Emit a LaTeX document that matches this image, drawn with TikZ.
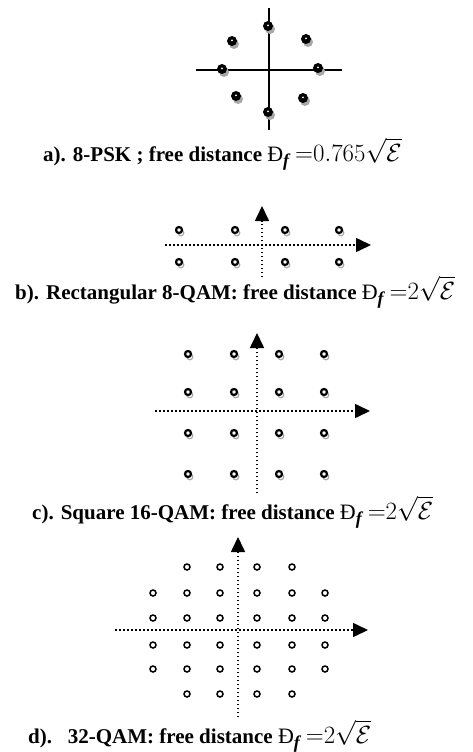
\documentclass[tikz,border=0pt]{standalone}
\usepackage{amsmath,amssymb}
\usepackage{fontspec}
\setmainfont{Liberation Serif}
\usepackage{tikz}
\usetikzlibrary{arrows.meta,shadows}
\definecolor{shade}{HTML}{A8A8A8}
\newcommand{\dfree}[1]{free distance {\fontsize{22}{24}\selectfont\mdseries Ɖ}\raisebox{-5pt}{\fontsize{18}{20}\selectfont\itshape f}\hspace{6pt}{\fontsize{27}{30}\selectfont$\mathord{=}#1\sqrt{\mathcal{E}}$}}

\begin{document}
\begin{tikzpicture}[x=1pt,y=-1pt,>={Triangle[length=15pt,width=14pt]},
  lbl/.style={anchor=base west,inner sep=0,font=\fontsize{21}{24}\selectfont\bfseries},
  psk/.style={circle,fill=black,minimum size=10pt,inner sep=0,
    general shadow={fill=shade,shadow xshift=2pt,shadow yshift=-3pt},
    path picture={\fill[white] ([yshift=.6pt]path picture bounding box.center) circle (1pt);}},
  qam/.style={circle,draw=black,line width=2.2pt,fill=white,minimum size=6pt,inner sep=0,
    general shadow={draw=shade,line width=1.2pt,fill=white,shadow xshift=1.8pt,shadow yshift=-2.8pt},
    path picture={\fill (path picture bounding box.center) circle (.7pt);}},
  ring/.style={circle,draw=black,line width=1.5pt,fill=white,minimum size=6pt,inner sep=0,
    path picture={\fill (path picture bounding box.center) circle (.5pt);}},
  axis/.style={line width=1.6pt,dash pattern=on 1.5pt off 2.5pt,->}]
\useasboundingbox (0,0) rectangle (473,752);
% a) 8-PSK
\draw[line width=2pt] (196,70) -- (342,70);
\draw[line width=2pt] (269,8) -- (269,130);
\foreach \x/\y [count=\i] in {268/26,306/39,318/68,303/98,268/112,236/96,222/69,232/41}
  \node[psk] (a-\i) at (\x,\y) {};
\node[lbl] (capa) at (43,161) {a). 8-PSK ; \dfree{0.765}};
% b) rectangular 8-QAM
\draw[axis] (165,245) -- (371,245);
\draw[axis] (262,277) -- (262,206);
\foreach \x [count=\i] in {179,235,285,339}
  \foreach \y [count=\j] in {230,262}
    \node[qam] (b-\i-\j) at (\x,\y) {};
\node[lbl] (capb) at (15,299) {b). Rectangular 8-QAM: \dfree{2}};
% c) square 16-QAM
\draw[axis] (155,411) -- (370,411);
\draw[axis] (257,493) -- (257,333);
\foreach \x [count=\i] in {188,234,279,324}
  \foreach \y [count=\j] in {354,392,433,474}
    \node[qam] (c-\i-\j) at (\x,\y) {};
\node[lbl] (capc) at (32,519) {c). Square 16-QAM: \dfree{2}};
% d) 32-QAM
\draw[axis] (115,630) -- (368,630);
\draw[axis] (238,717) -- (238,537);
\foreach \x [count=\i] in {153,187,220,257,292,325}
  \foreach \y [count=\j] in {567,593,618,645,669,694} {
    \ifnum\i=1 \ifnum\j=1 \else\ifnum\j=6 \else \node[ring] (d-\i-\j) at (\x,\y) {};\fi\fi
    \else\ifnum\i=6 \ifnum\j=1 \else\ifnum\j=6 \else \node[ring] (d-\i-\j) at (\x,\y) {};\fi\fi
    \else \node[ring] (d-\i-\j) at (\x,\y) {};\fi\fi}
\node[lbl] (capd) at (28,743) {d).\ \ \ 32-QAM: \dfree{2}};
\end{tikzpicture}
\end{document}
